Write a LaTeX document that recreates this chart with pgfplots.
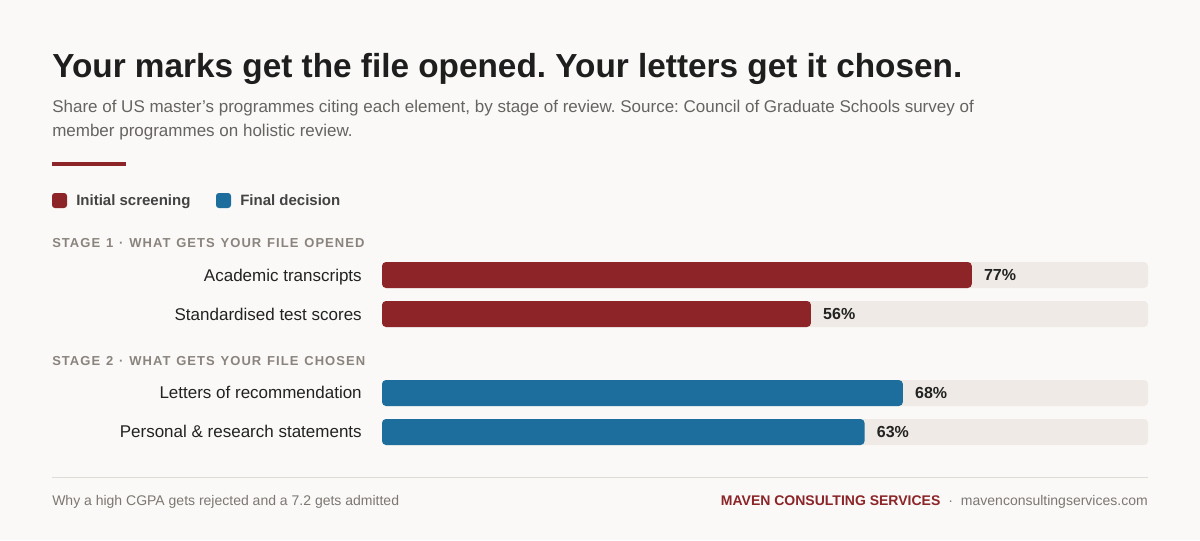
\documentclass[border=0pt]{standalone}
\usepackage{fontspec}
\setmainfont{Liberation Sans}
\usepackage{pgfplots}
\pgfplotsset{compat=1.18}
\definecolor{bgc}{HTML}{FAF9F7}
\definecolor{redc}{HTML}{8C2428}
\definecolor{bluec}{HTML}{1D6E9C}
\definecolor{trackc}{HTML}{EFEAE5}
\definecolor{titlec}{HTML}{1E1E1E}
\definecolor{subc}{HTML}{666360}
\definecolor{stagec}{HTML}{8A847E}
\definecolor{labc}{HTML}{222222}
\definecolor{footc}{HTML}{7C7772}
\definecolor{rulec}{HTML}{DEDBD7}
\frenchspacing
\newcommand{\stagefont}{\fontsize{9.75}{11}\selectfont\bfseries\addfontfeature{LetterSpace=8}\spaceskip=0.45em\relax}
\begin{document}
\begin{tikzpicture}
\begin{scope}[x=0.75pt,y=-0.75pt]
\fill[bgc] (0,0) rectangle (1200,540);
\node[anchor=base west, inner sep=0, text=titlec, font=\fontsize{25}{30}\selectfont\bfseries] at (52,77) {Your marks get the file opened. Your letters get it chosen.};
\node[anchor=base west, inner sep=0, text=subc, font=\fontsize{12.75}{17}\selectfont] at (52,112) {Share of US master’s programmes citing each element, by stage of review. Source: Council of Graduate Schools survey of};
\node[anchor=base west, inner sep=0, text=subc, font=\fontsize{12.75}{17}\selectfont] at (52,136) {member programmes on holistic review.};
\fill[redc] (52,162) rectangle (126,166);
% legend
\fill[redc, rounded corners=2.2pt] (52,193) rectangle (67,208);
\node[anchor=base west, inner sep=0, text=labc!85!white, font=\fontsize{11.25}{13}\selectfont\bfseries] at (76,205) {Initial screening};
\fill[bluec, rounded corners=2.2pt] (216,193) rectangle (231,208);
\node[anchor=base west, inner sep=0, text=labc!85!white, font=\fontsize{11.25}{13}\selectfont\bfseries] at (240,205) {Final decision};
% stage labels
\node[anchor=base west, inner sep=0, text=stagec] at (52,247) {\stagefont STAGE 1 · WHAT GETS YOUR FILE OPENED};
\node[anchor=base west, inner sep=0, text=stagec] at (52,365) {\stagefont STAGE 2 · WHAT GETS YOUR FILE CHOSEN};
% category labels
\foreach \t/\yy in {Academic transcripts/281, Standardised test scores/320, Letters of recommendation/398, Personal \& research statements/437}
  \node[anchor=base east, inner sep=0, text=labc, font=\fontsize{12.75}{16}\selectfont] at (362,\yy) {\t};
% footer
\draw[rulec, line width=0.75pt] (52,477.5) -- (1148,477.5);
\node[anchor=base west, inner sep=0, text=footc, font=\fontsize{10.5}{13}\selectfont] at (52,505) {Why a high CGPA gets rejected and a 7.2 gets admitted};
\node[anchor=base east, inner sep=0, text=footc, font=\fontsize{10.5}{13}\selectfont] at (1148,505) {{\color{redc}\bfseries MAVEN CONSULTING SERVICES}\hspace{6pt}·\hspace{6pt}mavenconsultingservices.com};
\end{scope}
\begin{axis}[at={(286.5pt,-337.5pt)}, anchor=south west, scale only axis,
  width=574.5pt, height=157.5pt, xmin=0, xmax=100, ymin=240, ymax=450,
  y dir=reverse, hide axis, clip=false, xbar, bar width=19.5pt,
  bar shift=0pt]
\addplot[fill=trackc, draw=none, rounded corners=3pt] coordinates {(100,275) (100,314) (100,393) (100,432)};
\addplot[fill=redc, draw=none, rounded corners=3pt,
  point meta=explicit symbolic,
  nodes near coords, nodes near coords style={anchor=west, inner sep=0pt, xshift=9pt, text=labc, font=\fontsize{12}{14}\selectfont\bfseries}]
  coordinates {(77,275) [77\%] (56,314) [56\%]};
\addplot[fill=bluec, draw=none, rounded corners=3pt,
  point meta=explicit symbolic,
  nodes near coords, nodes near coords style={anchor=west, inner sep=0pt, xshift=9pt, text=labc, font=\fontsize{12}{14}\selectfont\bfseries}]
  coordinates {(68,393) [68\%] (63,432) [63\%]};
\end{axis}
\end{tikzpicture}
\end{document}
